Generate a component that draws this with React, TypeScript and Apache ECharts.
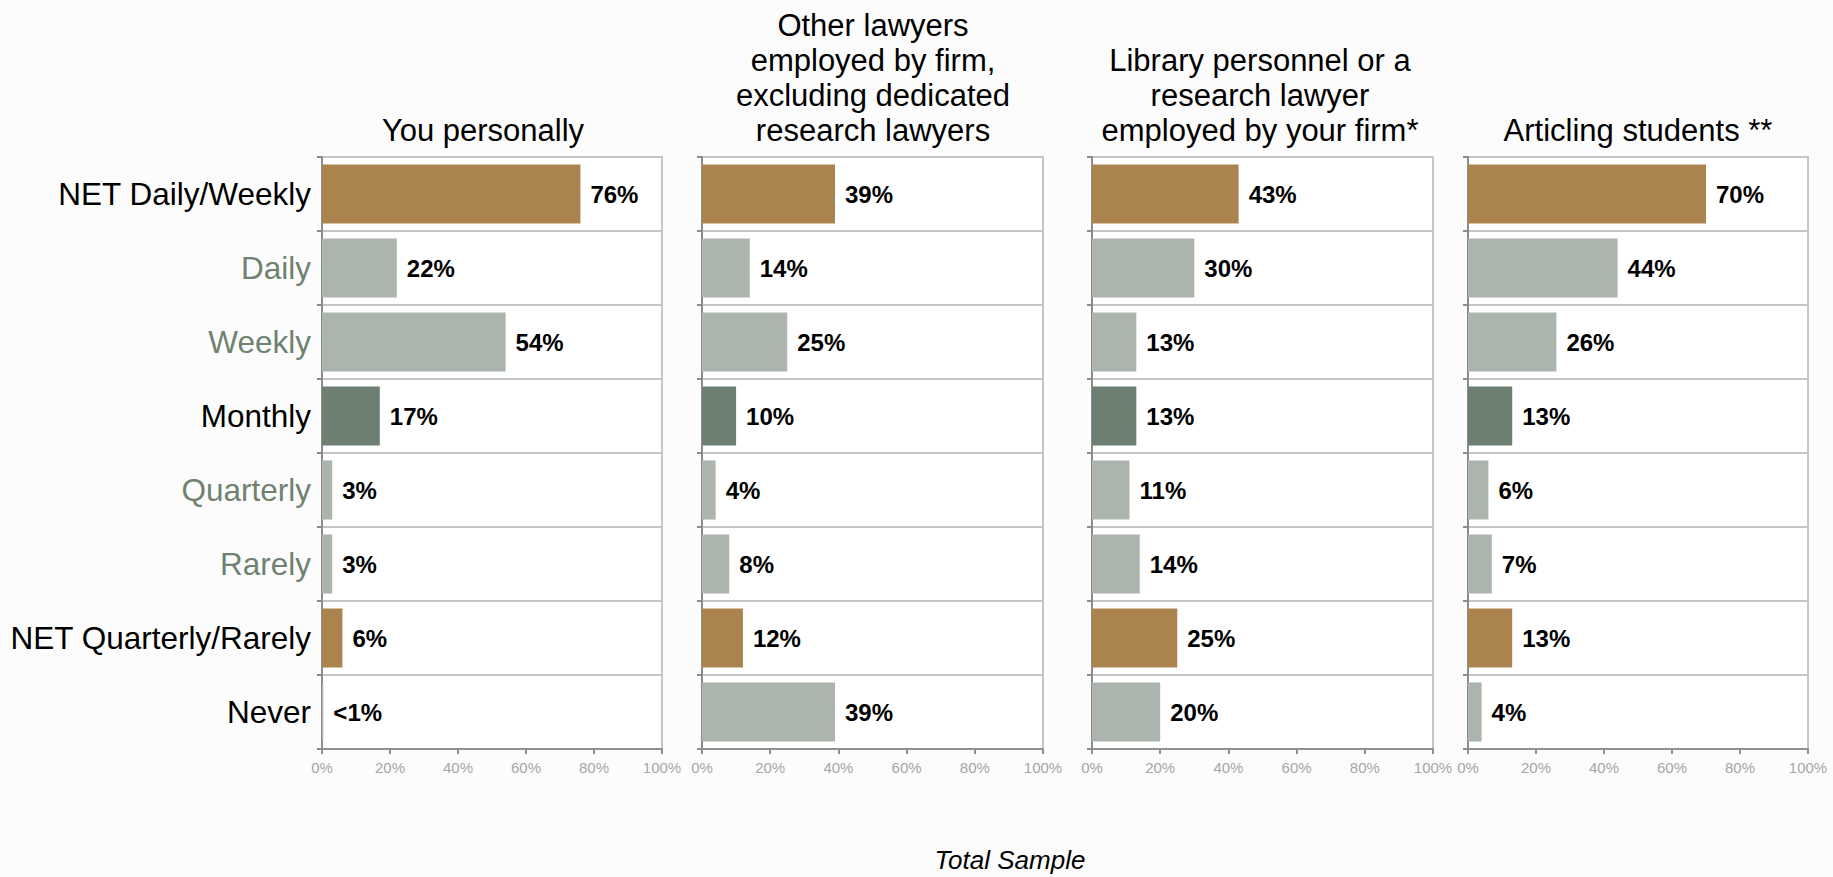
import React, { useEffect, useRef } from "react";
import * as echarts from "echarts";

const categories = [
  "NET Daily/Weekly",
  "Daily",
  "Weekly",
  "Monthly",
  "Quarterly",
  "Rarely",
  "NET Quarterly/Rarely",
  "Never",
];
const categoryKinds = ["net", "sub", "sub", "main", "sub", "sub", "net", "plain"];

const panelTitles = [
  "You personally",
  "Other lawyers\nemployed by firm,\nexcluding dedicated\nresearch lawyers",
  "Library personnel or a\nresearch lawyer\nemployed by your firm*",
  "Articling students **",
];

const youPersonally = [76, 22, 54, 17, 3, 3, 6, 0.4];
const otherLawyers = [39, 14, 25, 10, 4, 8, 12, 39];
const libraryPersonnel = [43, 30, 13, 13, 11, 14, 25, 20];
const articlingStudents = [70, 44, 26, 13, 6, 7, 13, 4];
const panelValues = [youPersonally, otherLawyers, libraryPersonnel, articlingStudents];

const xTicks = [0, 20, 40, 60, 80, 100];
const footnote = "Total Sample";

const FONT = "'Liberation Sans', Arial, Helvetica, sans-serif";
const BAR_COLORS: Record<string, string> = {
  net: "#aa834f",
  sub: "#abb5ad",
  main: "#6c7f70",
  plain: "#abb5ad",
};
const LABEL_COLORS: Record<string, string> = {
  net: "#000000",
  sub: "#6f8270",
  main: "#000000",
  plain: "#000000",
};

const panelLayout = [
  { left: 322, width: 340, titleX: 483 },
  { left: 702, width: 341, titleX: 873 },
  { left: 1092, width: 341, titleX: 1260 },
  { left: 1468, width: 340, titleX: 1638 },
];
const GRID_TOP = 157;
const GRID_HEIGHT = 592;

export default function App() {
  const ref = useRef<HTMLDivElement>(null);

  useEffect(() => {
    document.body.style.margin = "0";
    if (!ref.current) return;
    const chart = echarts.init(ref.current, undefined, { renderer: "svg" });

    const grids = panelLayout.map((p) => ({
      left: p.left,
      width: p.width,
      top: GRID_TOP,
      height: GRID_HEIGHT,
      show: true,
      borderColor: "#c6c6c6",
      borderWidth: 2,
      backgroundColor: "#ffffff",
    }));

    const xAxes = panelLayout.map((_, i) => ({
      type: "value",
      gridIndex: i,
      min: 0,
      max: 100,
      interval: 20,
      axisLine: { show: true, lineStyle: { color: "#909090", width: 2 } },
      axisTick: { show: true, length: 5, lineStyle: { color: "#909090", width: 2 } },
      splitLine: { show: false },
      axisLabel: {
        color: "#a6a6a6",
        fontSize: 15,
        fontFamily: FONT,
        margin: 11,
        formatter: (v: number) => (xTicks.includes(v) ? v + "%" : ""),
      },
    }));

    const yAxes = panelLayout.map((_, i) => ({
      type: "category",
      gridIndex: i,
      inverse: true,
      data: categories.map((c, k) => ({
        value: c,
        textStyle: { color: LABEL_COLORS[categoryKinds[k]] },
      })),
      axisLine: { show: true, lineStyle: { color: "#8c8c8c", width: 2 } },
      axisTick: { show: true, length: 5, lineStyle: { color: "#8c8c8c", width: 2 } },
      splitLine: { show: true, lineStyle: { color: "#c6c6c6", width: 2 } },
      axisLabel: {
        show: i === 0,
        fontSize: 31.5,
        fontFamily: FONT,
        margin: 11,
      },
    }));

    const series = panelValues.map((vals, i) => ({
      type: "bar",
      xAxisIndex: i,
      yAxisIndex: i,
      barCategoryGap: "20%",
      data: vals.map((v, k) => ({
        value: v,
        itemStyle: { color: BAR_COLORS[categoryKinds[k]] },
      })),
      label: {
        show: true,
        position: "right",
        distance: 10,
        color: "#000",
        fontSize: 24,
        fontWeight: "bold",
        fontFamily: FONT,
        formatter: (p: any) => (p.value < 1 ? "<1%" : Math.round(p.value) + "%"),
      },
    }));

    const graphics: any[] = panelTitles.map((t, i) => ({
      type: "text",
      x: panelLayout[i].titleX,
      y: 148,
      style: {
        text: t,
        font: `31px ${FONT}`,
        fill: "#000",
        textAlign: "center",
        textVerticalAlign: "bottom",
        lineHeight: 35,
      },
    }));
    graphics.push({
      type: "text",
      x: 1010,
      y: 860,
      style: {
        text: footnote,
        font: `italic 26px ${FONT}`,
        fill: "#000",
        textAlign: "center",
        textVerticalAlign: "middle",
      },
    });
    graphics.push({
      type: "rect",
      shape: { x: 925, y: 380, width: 27, height: 22 },
      style: { fill: "#ffffff" },
    });

    chart.setOption({
      animation: false,
      backgroundColor: "#fcfcfc",
      grid: grids,
      xAxis: xAxes,
      yAxis: yAxes,
      series,
      graphic: graphics,
    } as any);

    return () => chart.dispose();
  }, []);

  return <div ref={ref} style={{ width: 1833, height: 877 }} />;
}
